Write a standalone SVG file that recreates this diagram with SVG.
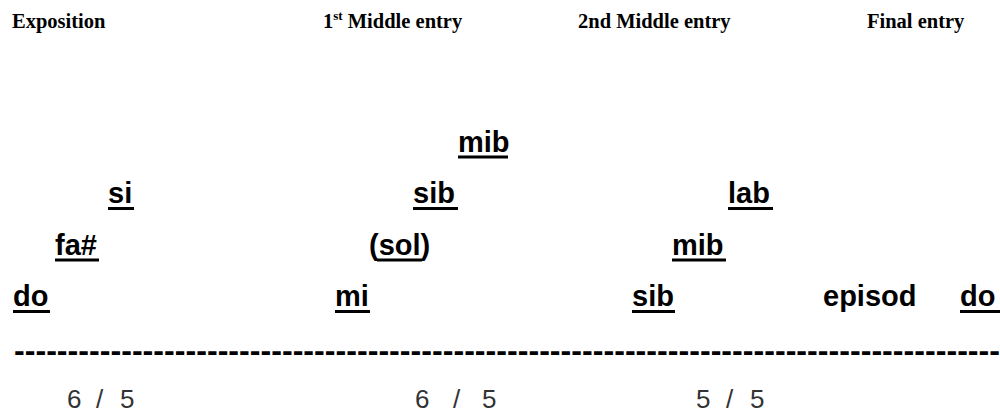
<svg xmlns="http://www.w3.org/2000/svg" width="1000" height="414" viewBox="0 0 1000 414">
<style>
.hd{font-family:"Liberation Serif","Times New Roman",serif;font-weight:bold;font-size:20.5px;fill:#000}
.nt{font-family:"Liberation Sans",Arial,sans-serif;font-weight:bold;font-size:29px;fill:#000}
.ul{fill:#000}
.num{font-family:"Liberation Sans",Arial,sans-serif;font-size:26px;fill:#333}
.dash{font-family:"Liberation Sans",Arial,sans-serif;font-weight:bold;font-size:32px;fill:#000}
</style>
<rect width="1000" height="414" fill="#fff"/>
<g id="headings">
<text class="hd" x="12" y="28">Exposition</text>
<text class="hd" x="323" y="28">1<tspan font-size="13" dy="-8">st</tspan><tspan dy="8"> Middle entry</tspan></text>
<text class="hd" x="578" y="28">2nd Middle entry</text>
<text class="hd" x="867" y="28">Final entry</text>
</g>
<g id="n-do1"><text class="nt" x="13" y="306">do</text><rect class="ul" x="13" y="310" width="37" height="3"/></g>
<g id="n-fa"><text class="nt" x="55" y="254.5">fa#</text><rect class="ul" x="55" y="258.5" width="44" height="3"/></g>
<g id="n-si"><text class="nt" x="108" y="203">si</text><rect class="ul" x="108" y="207" width="26" height="3"/></g>
<g id="n-mi"><text class="nt" x="335" y="306">mi</text><rect class="ul" x="335" y="310" width="35" height="3"/></g>
<g id="n-sol"><text class="nt" x="369" y="254.5">(sol)</text><rect class="ul" x="377" y="258.5" width="45" height="3"/></g>
<g id="n-sib1"><text class="nt" x="413" y="203">sib</text><rect class="ul" x="413" y="207" width="45" height="3"/></g>
<g id="n-mib1"><text class="nt" x="458" y="151.5">mib</text><rect class="ul" x="458" y="155.5" width="50" height="3"/></g>
<g id="n-sib2"><text class="nt" x="632" y="306">sib</text><rect class="ul" x="632" y="310" width="43" height="3"/></g>
<g id="n-mib2"><text class="nt" x="672" y="254.5">mib</text><rect class="ul" x="672" y="258.5" width="54" height="3"/></g>
<g id="n-lab"><text class="nt" x="728" y="203">lab</text><rect class="ul" x="728" y="207" width="45" height="3"/></g>
<g id="n-episod"><text class="nt" x="823" y="306">episod</text></g>
<g id="n-do2"><text class="nt" x="960" y="306">do</text><rect class="ul" x="960" y="310" width="40" height="3"/></g>
<g id="connectors">
<text class="dash" x="14" y="360.5" textLength="986" lengthAdjust="spacingAndGlyphs">--------------------------------------------------------------------------------------------</text>
</g>
<g id="ratios">
<text class="num" x="67 96 120" y="408">6/5</text>
<text class="num" x="415 453 482" y="408">6/5</text>
<text class="num" x="696 726 750" y="408">5/5</text>
</g>
</svg>
